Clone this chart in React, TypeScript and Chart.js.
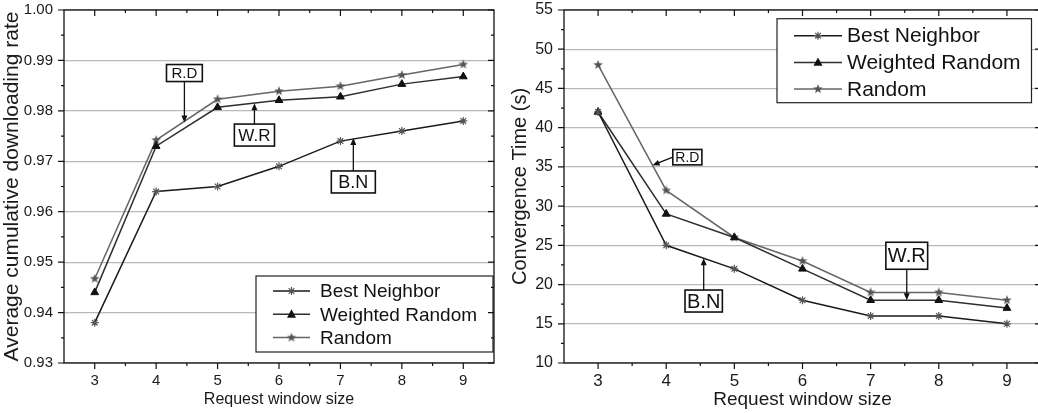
import React, { useEffect, useRef } from 'react';
import { Chart, registerables } from 'chart.js';
Chart.register(...registerables);

// ---------------- data ----------------
const windowSizes = [3, 4, 5, 6, 7, 8, 9];
const seriesNames = ['Best Neighbor', 'Weighted Random', 'Random'];

const rateBestNeighbor = [0.938, 0.964, 0.965, 0.969, 0.974, 0.976, 0.978];
const rateWeightedRandom = [0.944, 0.973, 0.9807, 0.9821, 0.9828, 0.9853, 0.9868];
const rateRandom = [0.9467, 0.9742, 0.9823, 0.9839, 0.9849, 0.9871, 0.9892];

const timeBestNeighbor = [42, 25, 22, 18, 16, 16, 15];
const timeWeightedRandom = [42, 29, 26, 22, 18, 18, 17];
const timeRandom = [48, 32, 26, 23, 19, 19, 18];

const rateTicks = [0.93, 0.94, 0.95, 0.96, 0.97, 0.98, 0.99, 1.0];
const timeTicks = [10, 15, 20, 25, 30, 35, 40, 45, 50, 55];

// annotation labels, anchored in data coordinates (box centre, arrow tip)
const rateNotes = [
  { text: 'R.D', x: 4.46, y: 0.9875, tipX: 4.46, tipY: 0.9777 },
  { text: 'W.R', x: 5.6, y: 0.9752, tipX: 5.6, tipY: 0.9815 },
  { text: 'B.N', x: 7.21, y: 0.9659, tipX: 7.21, tipY: 0.9746 },
];
const timeNotes = [
  { text: 'R.D', x: 4.31, y: 36.24, tipX: 3.8, tipY: 35.2 },
  { text: 'B.N', x: 4.55, y: 17.9, tipX: 4.55, tipY: 23.35 },
  { text: 'W.R', x: 7.53, y: 23.67, tipX: 7.53, tipY: 18.0 },
];

// ---------------- styles ----------------
const FONT = '"Liberation Sans", Arial, Helvetica, sans-serif';
Chart.defaults.font.family = FONT;
Chart.defaults.color = '#1a1a1a';

const rateNoteStyle = [
  { font: 15, padX: 5, padY: 1 },
  { font: 17, padX: 4, padY: 2.5 },
  { font: 18, padX: 7, padY: 2 },
];
const timeNoteStyle = [
  { font: 14, padX: 2.5, padY: 0.7 },
  { font: 20, padX: 2, padY: 1 },
  { font: 20, padX: 2, padY: 3.5 },
];

function makeStar(size: number, color: string) {
  const c = document.createElement('canvas');
  c.width = size;
  c.height = size;
  const g = c.getContext('2d')!;
  const cx = size / 2, cy = size / 2, R = size / 2, r = R * 0.42;
  g.beginPath();
  for (let i = 0; i < 10; i++) {
    const a = -Math.PI / 2 + (i * Math.PI) / 5;
    const rad = i % 2 === 0 ? R : r;
    g.lineTo(cx + rad * Math.cos(a), cy + rad * Math.sin(a));
  }
  g.closePath();
  g.fillStyle = color;
  g.fill();
  return c;
}

const pts = (ys: number[]) => windowSizes.map((x, i) => ({ x, y: ys[i] }));

function drawMarker(ctx: CanvasRenderingContext2D, ds: any, x: number, y: number) {
  const style = ds.pointStyle;
  const r = ds.pointRadius;
  ctx.save();
  if (style instanceof HTMLCanvasElement) {
    ctx.drawImage(style, x - style.width / 2, y - style.height / 2);
  } else if (style === 'triangle') {
    ctx.fillStyle = ds.pointBackgroundColor;
    ctx.beginPath();
    ctx.moveTo(x, y - r * 1.1);
    ctx.lineTo(x + r, y + r * 0.75);
    ctx.lineTo(x - r, y + r * 0.75);
    ctx.closePath();
    ctx.fill();
  } else {
    ctx.strokeStyle = ds.pointBorderColor;
    ctx.lineWidth = ds.pointBorderWidth;
    ctx.beginPath();
    ctx.moveTo(x - r, y); ctx.lineTo(x + r, y);
    ctx.moveTo(x, y - r); ctx.lineTo(x, y + r);
    const d = r * 0.707;
    ctx.moveTo(x - d, y - d); ctx.lineTo(x + d, y + d);
    ctx.moveTo(x - d, y + d); ctx.lineTo(x + d, y - d);
    ctx.stroke();
  }
  ctx.restore();
}

// frame + tick marks on all four sides
const framePlugin = {
  id: 'frame',
  afterDraw(chart: any, _a: any, opts: any) {
    const { ctx, chartArea: ca, scales } = chart;
    const xs = scales.x, ys = scales.y;
    ctx.save();
    ctx.strokeStyle = '#111';
    ctx.lineWidth = 1.3;
    ctx.strokeRect(ca.left, ca.top, ca.right - ca.left, ca.bottom - ca.top);
    ctx.lineWidth = 1.2;
    const xMaj = xs.ticks.map((t: any) => t.value);
    const yMaj = ys.ticks.map((t: any) => t.value);
    const mids = (arr: number[]) => arr.slice(0, -1).map((v, i) => (v + arr[i + 1]) / 2);
    const xMin = mids(xMaj);
    const yMin = mids(yMaj);
    ctx.beginPath();
    const big = opts.major, small = opts.minor;
    xMaj.forEach((v: number) => {
      const p = xs.getPixelForValue(v);
      ctx.moveTo(p, ca.bottom); ctx.lineTo(p, ca.bottom + big);
      ctx.moveTo(p, ca.top); ctx.lineTo(p, ca.top + big);
    });
    xMin.forEach((v: number) => {
      const p = xs.getPixelForValue(v);
      ctx.moveTo(p, ca.bottom); ctx.lineTo(p, ca.bottom + small);
      ctx.moveTo(p, ca.top); ctx.lineTo(p, ca.top + small);
    });
    yMaj.forEach((v: number) => {
      const p = ys.getPixelForValue(v);
      ctx.moveTo(ca.left, p); ctx.lineTo(ca.left - big, p);
      ctx.moveTo(ca.right, p); ctx.lineTo(ca.right - big, p);
    });
    yMin.forEach((v: number) => {
      const p = ys.getPixelForValue(v);
      ctx.moveTo(ca.left, p); ctx.lineTo(ca.left - small, p);
      ctx.moveTo(ca.right, p); ctx.lineTo(ca.right - small, p);
    });
    ctx.stroke();
    ctx.restore();
  },
};

// boxed labels with arrows
const notesPlugin = {
  id: 'notes',
  afterDatasetsDraw(chart: any, _a: any, opts: any) {
    const { ctx, scales } = chart;
    const notes = opts.items as any[];
    const styles = opts.styles as any[];
    notes.forEach((n, i) => {
      const st = styles[i];
      ctx.save();
      ctx.font = `${st.font}px ${FONT}`;
      const tw = ctx.measureText(n.text).width;
      const w = tw + 2 * st.padX;
      const h = st.font + 2 * st.padY;
      const bx = scales.x.getPixelForValue(n.x);
      const by = scales.y.getPixelForValue(n.y);
      const tx = scales.x.getPixelForValue(n.tipX);
      const ty = scales.y.getPixelForValue(n.tipY);
      let sx: number, sy: number;
      if (Math.abs(tx - bx) < w / 2) {
        sx = tx;
        sy = ty > by ? by + h / 2 : by - h / 2;
      } else {
        sx = tx < bx ? bx - w / 2 : bx + w / 2;
        sy = by;
      }
      ctx.strokeStyle = '#111';
      ctx.fillStyle = '#111';
      ctx.lineWidth = 1.3;
      const ang = Math.atan2(ty - sy, tx - sx);
      const hl = 7, hw = 3;
      ctx.beginPath();
      ctx.moveTo(sx, sy);
      ctx.lineTo(tx - Math.cos(ang) * hl * 0.8, ty - Math.sin(ang) * hl * 0.8);
      ctx.stroke();
      ctx.beginPath();
      ctx.moveTo(tx, ty);
      ctx.lineTo(tx - Math.cos(ang) * hl - Math.sin(ang) * hw, ty - Math.sin(ang) * hl + Math.cos(ang) * hw);
      ctx.lineTo(tx - Math.cos(ang) * hl + Math.sin(ang) * hw, ty - Math.sin(ang) * hl - Math.cos(ang) * hw);
      ctx.closePath();
      ctx.fill();
      ctx.fillStyle = '#fff';
      ctx.fillRect(bx - w / 2, by - h / 2, w, h);
      ctx.lineWidth = 1.6;
      ctx.strokeRect(bx - w / 2, by - h / 2, w, h);
      ctx.fillStyle = '#111';
      ctx.textAlign = 'center';
      ctx.textBaseline = 'middle';
      ctx.fillText(n.text, bx, by + 1);
      ctx.restore();
    });
  },
};

// legend box inside the plot area
const insetLegendPlugin = {
  id: 'insetLegend',
  afterDatasetsDraw(chart: any, _a: any, o: any) {
    const { ctx, chartArea: ca } = chart;
    const left = ca.right - o.rightInset - o.width;
    const top = o.anchor === 'bottom' ? ca.bottom - o.edgeInset - o.height : ca.top + o.edgeInset;
    ctx.save();
    ctx.fillStyle = '#fff';
    ctx.fillRect(left, top, o.width, o.height);
    ctx.strokeStyle = '#222';
    ctx.lineWidth = 1.2;
    ctx.strokeRect(left, top, o.width, o.height);
    chart.data.datasets.forEach((ds: any, i: number) => {
      const y = top + o.firstRow + i * o.rowGap;
      ctx.strokeStyle = ds.borderColor;
      ctx.lineWidth = ds.borderWidth;
      ctx.beginPath();
      ctx.moveTo(left + o.lineX1, y);
      ctx.lineTo(left + o.lineX2, y);
      ctx.stroke();
      drawMarker(ctx, ds, left + (o.lineX1 + o.lineX2) / 2, y);
      ctx.fillStyle = '#111';
      ctx.font = `${o.font}px ${FONT}`;
      ctx.textAlign = 'left';
      ctx.textBaseline = 'middle';
      ctx.fillText(ds.label, left + o.textX, y + 1);
    });
    ctx.restore();
  },
};

function makeDatasets(bn: number[], wr: number[], rd: number[]) {
  const star = makeStar(10, '#555');
  return [
    {
      label: seriesNames[0], data: pts(bn), borderColor: '#1a1a1a', borderWidth: 1.5,
      pointStyle: 'star', pointRadius: 4, pointBorderColor: '#555', pointBorderWidth: 1.2,
      pointBackgroundColor: '#555',
    },
    {
      label: seriesNames[1], data: pts(wr), borderColor: '#2e2e2e', borderWidth: 1.5,
      pointStyle: 'triangle', pointRadius: 4.5, pointBorderColor: '#111', pointBorderWidth: 1,
      pointBackgroundColor: '#111',
    },
    {
      label: seriesNames[2], data: pts(rd), borderColor: '#666', borderWidth: 1.5,
      pointStyle: star, pointRadius: 5, pointBorderColor: '#555', pointBorderWidth: 1,
      pointBackgroundColor: '#555',
    },
  ];
}

function xScale(tickSize: number, pad: number, titleSize: number, titlePad: number) {
  return {
    type: 'linear', min: 2.5, max: 9.5,
    afterBuildTicks: (s: any) => { s.ticks = windowSizes.map((v) => ({ value: v })); },
    afterFit: (s: any) => { s.height = 50; s.paddingLeft = 0; s.paddingRight = 0; },
    grid: { display: false, drawTicks: false },
    border: { display: false },
    ticks: { font: { size: tickSize }, color: '#1a1a1a', padding: pad, maxRotation: 0, autoSkip: false },
    title: { display: true, text: 'Request window size', font: { size: titleSize }, color: '#1a1a1a', padding: { top: 0, bottom: titlePad } },
  };
}

function ChartCanvas({ config, width, height, left }: any) {
  const ref = useRef<HTMLCanvasElement>(null);
  useEffect(() => {
    const chart = new Chart(ref.current!, config());
    return () => chart.destroy();
  }, []);
  return (
    <canvas ref={ref} width={width} height={height}
      style={{ position: 'absolute', left, top: 0, width, height }} />
  );
}

const rateConfig = () => ({
  type: 'line',
  data: { datasets: makeDatasets(rateBestNeighbor, rateWeightedRandom, rateRandom) },
  options: {
    responsive: false, animation: false, devicePixelRatio: 1,
    layout: { padding: { top: 10, right: 11, left: 0, bottom: 0 } },
    scales: {
      x: xScale(15, 9, 16, 4),
      y: {
        min: 0.93, max: 1.0,
        afterBuildTicks: (s: any) => { s.ticks = rateTicks.map((v) => ({ value: v })); },
        afterFit: (s: any) => { s.width = 64; s.paddingTop = 0; s.paddingBottom = 0; },
        grid: { color: '#b9b9b9', lineWidth: 1.2, drawTicks: false },
        border: { display: false },
        ticks: { font: { size: 15 }, color: '#1a1a1a', padding: 11, callback: (v: any) => Number(v).toFixed(2) },
        title: { display: true, text: 'Average cumulative downloading rate', font: { size: 21 }, color: '#1a1a1a', padding: { top: 0, bottom: 0 } },
      },
    },
    plugins: {
      legend: { display: false }, tooltip: { enabled: false },
      frame: { major: 6, minor: 3 },
      notes: { items: rateNotes, styles: rateNoteStyle },
      insetLegend: { anchor: 'bottom', rightInset: 1, edgeInset: 11, width: 237, height: 76, firstRow: 15, rowGap: 23.3, lineX1: 17, lineX2: 54, textX: 64, font: 19 },
    },
  },
  plugins: [framePlugin, notesPlugin, insetLegendPlugin],
});

const timeConfig = () => ({
  type: 'line',
  data: { datasets: makeDatasets(timeBestNeighbor, timeWeightedRandom, timeRandom) },
  options: {
    responsive: false, animation: false, devicePixelRatio: 1,
    layout: { padding: { top: 10, right: 9, left: 0, bottom: 0 } },
    scales: {
      x: xScale(17, 8, 19, 2),
      y: {
        min: 10, max: 55,
        afterBuildTicks: (s: any) => { s.ticks = timeTicks.map((v) => ({ value: v })); },
        afterFit: (s: any) => { s.width = 59; s.paddingTop = 0; s.paddingBottom = 0; },
        grid: { color: '#b9b9b9', lineWidth: 1.2, drawTicks: false },
        border: { display: false },
        ticks: { font: { size: 16 }, color: '#1a1a1a', padding: 11 },
        title: { display: true, text: 'Convergence Time (s)', font: { size: 20 }, color: '#1a1a1a', padding: { top: 3, bottom: 0 } },
      },
    },
    plugins: {
      legend: { display: false }, tooltip: { enabled: false },
      frame: { major: 6, minor: 3 },
      notes: { items: timeNotes, styles: timeNoteStyle },
      insetLegend: { anchor: 'top', rightInset: 9.5, edgeInset: 8.7, width: 254.5, height: 84, firstRow: 17, rowGap: 26.7, lineX1: 17, lineX2: 65, textX: 70, font: 21 },
    },
  },
  plugins: [framePlugin, notesPlugin, insetLegendPlugin],
});

export default function App() {
  return (
    <div style={{ position: 'fixed', left: 0, top: 0, width: 1038, height: 413, overflow: 'hidden', background: '#fff' }}>
      <ChartCanvas config={rateConfig} width={505} height={413} left={0} />
      <ChartCanvas config={timeConfig} width={545} height={413} left={505} />
    </div>
  );
}
